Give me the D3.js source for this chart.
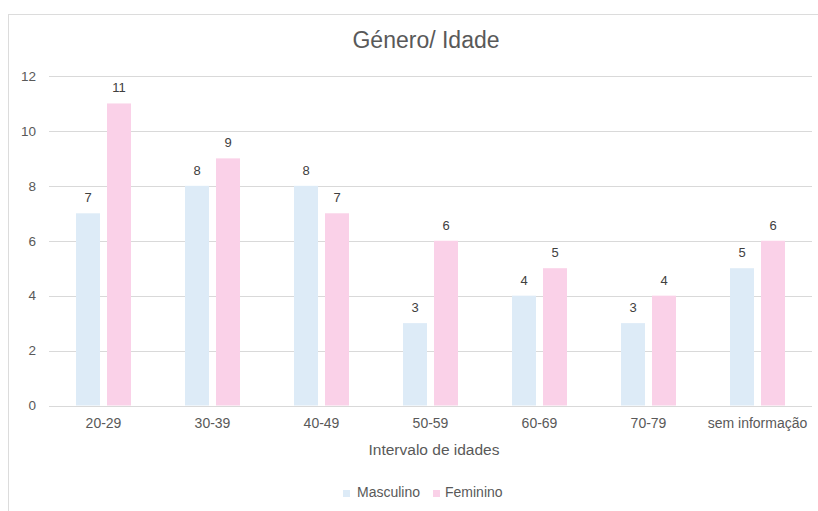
<!DOCTYPE html>
<html>
<head>
<meta charset="utf-8">
<script src="https://cdn.jsdelivr.net/npm/d3@7"></script>
<style>
  html, body { margin: 0; padding: 0; background: #fff; }
  svg { display: block; font-family: "Liberation Sans", Arial, Helvetica, sans-serif; }
</style>
</head>
<body>
<svg id="chart" width="818" height="511"></svg>
<script>
// Age groups and counts per gender
const categories = ["20-29", "30-39", "40-49", "50-59", "60-69", "70-79", "sem informação"];
const seriesNames = ["Masculino", "Feminino"];
const masculino = [7, 8, 8, 3, 4, 3, 5];
const feminino = [11, 9, 7, 6, 5, 4, 6];
const yTicks = [0, 2, 4, 6, 8, 10, 12];
const colors = ["#DDEBF7", "#FAD1E8"];

const series = [masculino, feminino];
const svg = d3.select("#chart");

// Outer chart frame (left and top edges visible)
svg.append("rect")
  .attr("x", 8.5).attr("y", 14.5)
  .attr("width", 830).attr("height", 520)
  .attr("fill", "none").attr("stroke", "#dcdcdc");

const plot = { left: 49, right: 812, top: 76, bottom: 405.5 };

const x0 = d3.scaleBand().domain(categories).range([plot.left, plot.right]);
const groupW = 55;
const x1 = d3.scaleBand().domain(seriesNames).range([0, groupW]).paddingInner(7 / 31);
const y = d3.scaleLinear().domain([0, 12]).range([plot.bottom, plot.top]);

// Horizontal gridlines
svg.append("g").selectAll("line").data(yTicks).join("line")
  .attr("x1", plot.left).attr("x2", plot.right)
  .attr("y1", d => Math.round(y(d)) + 0.5).attr("y2", d => Math.round(y(d)) + 0.5)
  .attr("stroke", "#d9d9d9").attr("stroke-width", 1);

// Y axis labels
const yAxis = d3.axisLeft(y).tickValues(yTicks).tickSize(0).tickPadding(0);
const gy = svg.append("g").attr("transform", `translate(${36},0)`).call(yAxis);
gy.select(".domain").remove();
gy.selectAll("text")
  .attr("fill", "#595959").attr("font-size", "13.5px")
  .attr("font-family", "Liberation Sans, Arial, sans-serif");

// Bars
const groups = svg.append("g").selectAll("g").data(categories).join("g")
  .attr("transform", c => `translate(${x0(c) + (x0.bandwidth() - groupW) / 2},0)`);

groups.selectAll("rect")
  .data((c, i) => seriesNames.map((s, k) => ({ s, v: series[k][i], k })))
  .join("rect")
  .attr("x", d => x1(d.s))
  .attr("width", x1.bandwidth())
  .attr("y", d => y(d.v))
  .attr("height", d => y(0) - y(d.v))
  .attr("fill", d => colors[d.k]);

// Value labels above bars
groups.selectAll("text")
  .data((c, i) => seriesNames.map((s, k) => ({ s, v: series[k][i], k })))
  .join("text")
  .attr("x", d => x1(d.s) + x1.bandwidth() / 2)
  .attr("y", d => y(d.v) - 11)
  .attr("text-anchor", "middle")
  .attr("fill", "#404040").attr("font-size", "13px")
  .text(d => d.v);

// X axis labels
const xAxis = d3.axisBottom(x0).tickSize(0).tickPadding(0);
const gx = svg.append("g").attr("transform", `translate(0,${418.5})`).call(xAxis);
gx.select(".domain").remove();
gx.selectAll("text")
  .attr("fill", "#595959").attr("font-size", "14px")
  .attr("font-family", "Liberation Sans, Arial, sans-serif");

// Title
svg.append("text")
  .attr("x", 426).attr("y", 48)
  .attr("text-anchor", "middle")
  .attr("fill", "#595959").attr("font-size", "23px")
  .text("Género/ Idade");

// X axis title
svg.append("text")
  .attr("x", 434).attr("y", 455)
  .attr("text-anchor", "middle")
  .attr("fill", "#595959").attr("font-size", "15.5px")
  .text("Intervalo de idades");

// Legend
const legendX = [343, 433];
const legend = svg.append("g").selectAll("g").data(seriesNames).join("g")
  .attr("transform", (d, i) => `translate(${legendX[i]},0)`);
legend.append("rect")
  .attr("x", 0).attr("y", 490).attr("width", 7).attr("height", 7)
  .attr("fill", (d, i) => colors[i]);
legend.append("text")
  .attr("x", (d, i) => i === 0 ? 14 : 12).attr("y", 497)
  .attr("fill", "#595959").attr("font-size", "14px")
  .text(d => d);
</script>
</body>
</html>
